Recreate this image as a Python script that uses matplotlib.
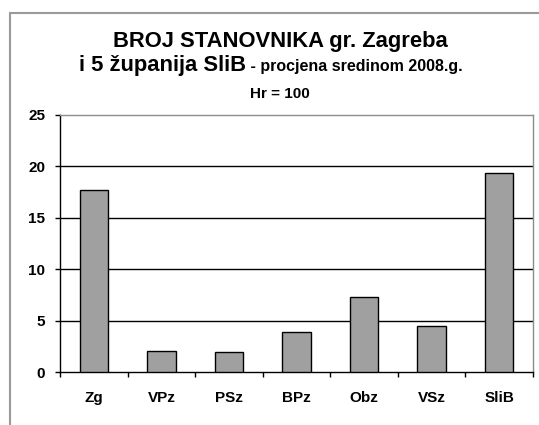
import matplotlib
matplotlib.use("Agg")
import matplotlib.pyplot as plt
from matplotlib.patches import Rectangle

categories = ["Zg", "VPz", "PSz", "BPz", "Obz", "VSz", "SliB"]
values = [17.7, 2.0, 1.9, 3.9, 7.3, 4.5, 19.4]
yticks = [0, 5, 10, 15, 20, 25]

plt.rcParams['font.family'] = ['Liberation Sans', 'DejaVu Sans']

W, H = 539, 425
fig = plt.figure(figsize=(W / 100, H / 100), dpi=100)

# outer chart frame
fig.patches.append(Rectangle((10 / W, -0.1), 1.2, 1 - 13 / H + 0.1, transform=fig.transFigure,
                             fill=False, edgecolor="#9a9a9a", linewidth=1.5))

ax = fig.add_axes([60 / W, 1 - 372 / H, (533 - 60) / W, (372 - 115) / H])
x = list(range(len(categories)))
ax.bar(x, values, width=0.42, color="#a0a0a0", edgecolor="black", linewidth=1.0, zorder=3)

ax.set_xlim(-0.5, len(categories) - 0.5)
ax.set_ylim(0, 25)
ax.set_yticks(yticks)
ax.set_yticklabels([str(v) for v in yticks], fontsize=11, fontweight="bold")
ax.set_xticks(x)
ax.set_xticklabels(categories, fontsize=11, fontweight="bold")
ax.tick_params(axis="x", length=0, pad=14)
ax.set_xticks([i - 0.5 for i in range(len(categories) + 1)], minor=True)
ax.tick_params(axis="x", which="minor", length=3.6, direction="out", width=1)
ax.tick_params(axis="y", length=3.6, direction="out", width=1, pad=7)

for v in yticks[1:-1]:
    ax.axhline(v, color="black", linewidth=1.0, zorder=1)

ax.spines["left"].set_color("black")
ax.spines["bottom"].set_color("black")
ax.spines["top"].set_color("#8c8c8c")
ax.spines["right"].set_color("#8c8c8c")
for s in ax.spines.values():
    s.set_linewidth(1.0)

fig.text(280 / W, 1 - 42 / H, "BROJ STANOVNIKA gr. Zagreba", ha="center", va="center",
         fontsize=15.8, fontweight="bold")
t1 = fig.text(0.5, 1 - 65 / H, "i 5 županija SliB", ha="left", va="center",
              fontsize=15.8, fontweight="bold")
t2 = fig.text(0.5, 1 - 65 / H, " - procjena sredinom 2008.g.", ha="left", va="center",
              fontsize=11.5, fontweight="bold")
fig.canvas.draw()
r = fig.canvas.get_renderer()
w1 = t1.get_window_extent(r).width / W
w2 = t2.get_window_extent(r).width / W
start = 271 / W - (w1 + w2) / 2
t1.set_x(start)
t2.set_x(start + w1)
t2.set_y(1 - 66 / H)
fig.text(280 / W, 1 - 94 / H, "Hr = 100", ha="center", va="center", fontsize=11, fontweight="bold")

fig.savefig("out.png", dpi=100)
